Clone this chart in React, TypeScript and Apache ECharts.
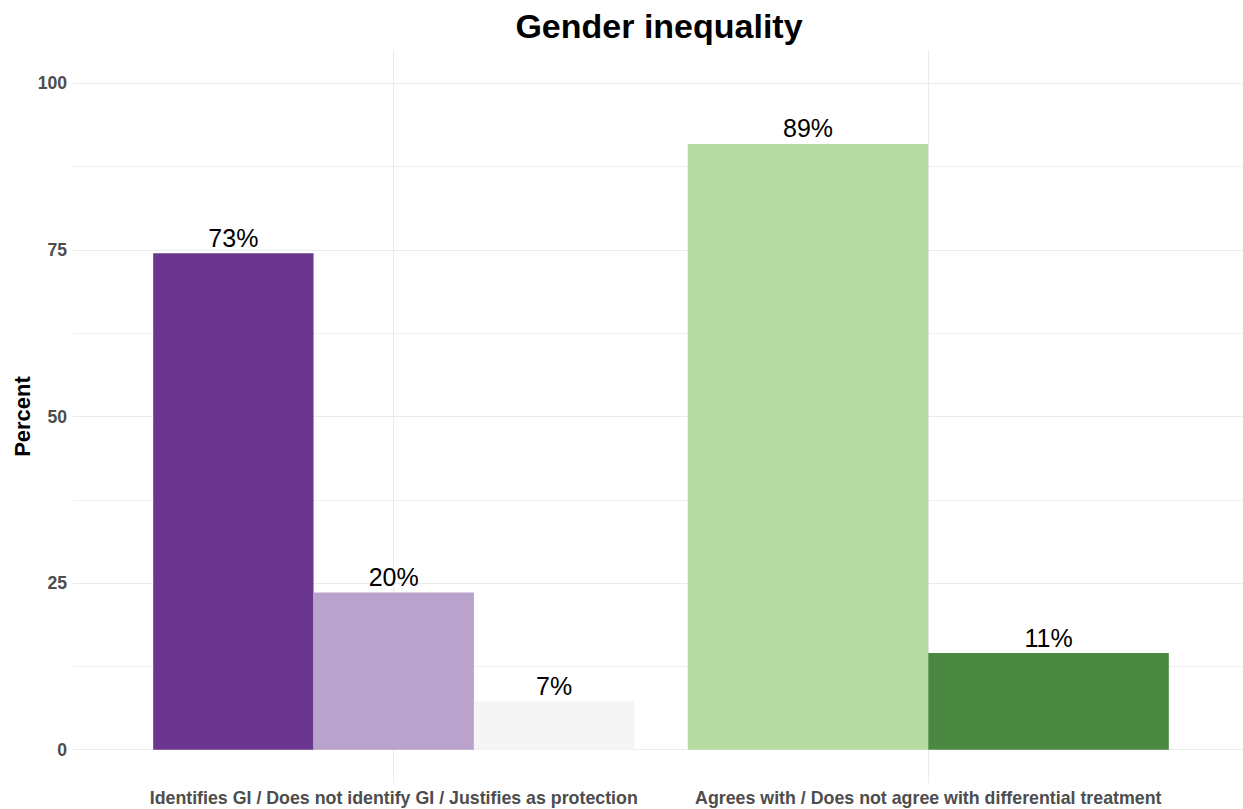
import React, { useEffect, useRef } from "react";
import * as echarts from "echarts";

const categories = [
  "Identifies GI / Does not identify GI / Justifies as protection",
  "Agrees with / Does not agree with differential treatment",
];
const categoryPositions = [1, 2];

const group1Names = ["Identifies GI", "Does not identify GI", "Justifies as protection"];
const group1Values = [74.5, 23.6, 7.25];
const group1Labels = ["73%", "20%", "7%"];
const group1Colors = ["#6b368e", "#b9a3cc", "#f5f5f5"];

const group2Names = ["Agrees with", "Does not agree with"];
const group2Values = [90.9, 14.5];
const group2Labels = ["89%", "11%"];
const group2Colors = ["#b8dba3", "#4b8841"];

const yTicks = [0, 25, 50, 75, 100];
const yMinorTicks = [12.5, 37.5, 62.5, 87.5];

const FONT = "'Liberation Sans', Arial, Helvetica, sans-serif";
const GRID = "#ebebeb";

export default function App() {
  const ref = useRef<HTMLDivElement>(null);

  useEffect(() => {
    if (!ref.current) return;
    const chart = echarts.init(ref.current, null, { renderer: "svg" });

    const makeSeries = (
      names: string[],
      values: number[],
      labels: string[],
      colors: string[],
      axisIndex: number,
      catIndex: number
    ) =>
      names.map((name, i) => ({
        type: "bar",
        name,
        xAxisIndex: axisIndex,
        yAxisIndex: 0,
        barGap: "0%",
        barWidth: `${90 / names.length}%`,
        itemStyle: { color: colors[i] },
        label: {
          show: true,
          position: "top",
          distance: 3,
          formatter: () => labels[i],
          fontFamily: FONT,
          fontSize: 25,
          color: "#000",
        },
        data: categoryPositions.map((p, k) =>
          k === catIndex ? [p, values[i]] : [p, "-"]
        ),
      }));

    const xBase = {
      type: "value",
      min: 0.4,
      max: 2.6,
      axisLine: { show: false },
    };

    chart.setOption({
      animation: false,
      backgroundColor: "#ffffff",
      title: {
        text: "Gender inequality",
        left: 659,
        textAlign: "center",
        top: 9,
        padding: 0,
        textStyle: {
          fontFamily: FONT,
          fontSize: 34,
          fontWeight: "bold",
          color: "#000",
        },
      },
      grid: {
        left: 73,
        right: -6,
        top: 50,
        bottom: 26,
        containLabel: false,
        outerBoundsMode: "none",
      },
      xAxis: [
        {
          ...xBase,
          axisTick: { show: false, customValues: categoryPositions },
          axisLabel: {
            customValues: categoryPositions,
            formatter: (v: number) => categories[Math.round(v) - 1] ?? "",
            fontFamily: FONT,
            fontSize: 17.8,
            fontWeight: "bold",
            color: "#4d4d4d",
            margin: 6,
          },
          splitLine: { show: true, lineStyle: { color: GRID, width: 1 } },
        },
        {
          ...xBase,
          show: false,
          axisTick: { show: false },
          axisLabel: { show: false },
          splitLine: { show: false },
        },
      ],
      yAxis: [
        {
          type: "value",
          min: -5,
          max: 105,
          name: "Percent",
          nameLocation: "middle",
          nameGap: 40,
          nameMoveOverlap: false,
          nameTextStyle: {
            fontFamily: FONT,
            fontSize: 22,
            fontWeight: "bold",
            color: "#000",
          },
          axisLine: { show: false },
          axisTick: { show: false, customValues: yTicks },
          axisLabel: {
            customValues: yTicks,
            fontFamily: FONT,
            fontSize: 17.6,
            fontWeight: "bold",
            color: "#4d4d4d",
            margin: 6,
          },
          splitLine: { show: true, lineStyle: { color: GRID, width: 1 } },
        },
        {
          type: "value",
          min: -5,
          max: 105,
          axisLine: { show: false },
          axisTick: { show: false, customValues: yMinorTicks },
          axisLabel: { show: false, customValues: yMinorTicks },
          splitLine: { show: true, lineStyle: { color: "#efefef", width: 1 } },
        },
      ],
      series: [
        ...makeSeries(group1Names, group1Values, group1Labels, group1Colors, 0, 0),
        ...makeSeries(group2Names, group2Values, group2Labels, group2Colors, 1, 1),
      ],
    });

    return () => chart.dispose();
  }, []);

  return (
    <div
      ref={ref}
      style={{ position: "fixed", left: 0, top: 0, width: 1243, height: 809 }}
    />
  );
}
